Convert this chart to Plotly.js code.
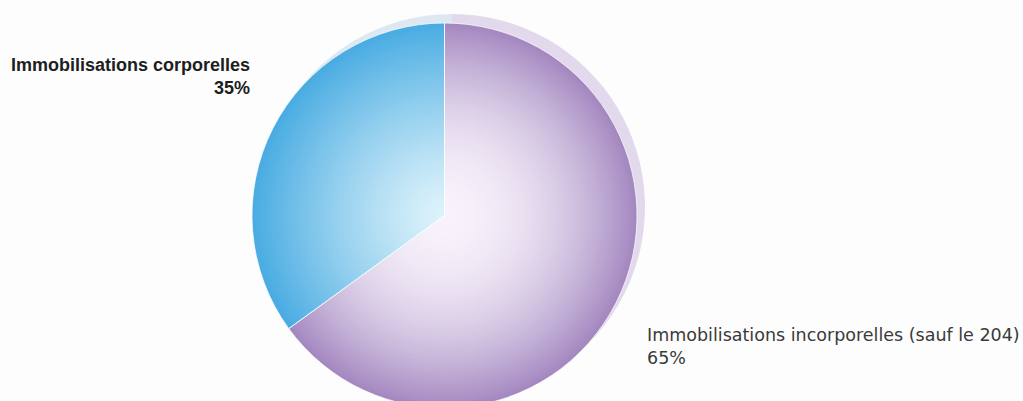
<!DOCTYPE html>
<html>
<head>
<meta charset="utf-8">
<script src="https://cdn.plot.ly/plotly-3.0.1.min.js"></script>
<style>html,body{margin:0;padding:0;overflow:hidden;background:#fdfdfd;}#chart{width:1023px;height:408px;}</style>
</head>
<body>
<div id="chart"></div>
<script>
// slice order: first slice runs clockwise from 12 o'clock
const categories = ["Immobilisations incorporelles (sauf le 204)", "Immobilisations corporelles"];
const values = [65, 35];
const percentLabels = ["65%", "35%"];

const W = 1023, H = 408;
const outerColors = [[164, 136, 192], [74, 172, 226]];
const innerColors = [[247, 242, 251], [222, 243, 251]];
const exponents = [2.0, 1.25];

function dom(cx, cy, r) {
  return {
    x: [(cx - r) / W, (cx + r) / W],
    y: [1 - (cy + r) / H, 1 - (cy - r) / H]
  };
}
function mix(a, b, t) {
  return 'rgb(' + a.map((v, i) => Math.round(v + (b[i] - v) * t)).join(',') + ')';
}

const cx = 444.5, cy = 215.5, R = 192.5;
const traces = [];
const base = {type: 'pie', values: values, labels: categories, sort: false,
  textinfo: 'none', hoverinfo: 'skip', showlegend: false};
// soft shadow disc
traces.push(Object.assign({}, base, {
  marker: {colors: ['#e2d9ed', '#dde8f3'], line: {width: 0}},
  domain: dom(452, 207, 193)
}));
// radial gradient layers
const N = 72;
for (let k = 0; k < N; k++) {
  const f = 1 - k / N;
  traces.push(Object.assign({}, base, {
    marker: {colors: [0, 1].map(i => mix(outerColors[i], innerColors[i], 1 - Math.pow(f, exponents[i]))), line: {width: 0}},
    domain: dom(cx, cy, R * f)
  }));
}
// outline
traces.push(Object.assign({}, base, {
  marker: {colors: ['rgba(0,0,0,0)', 'rgba(0,0,0,0)'], line: {width: 1, color: 'rgba(255,255,255,0.7)'}},
  domain: dom(cx, cy, R)
}));

const layout = {
  width: W, height: H,
  margin: {l: 0, r: 0, t: 0, b: 0},
  paper_bgcolor: '#fdfdfd',
  showlegend: false,
  annotations: [
    {
      xref: 'paper', yref: 'paper', x: 252 / W, y: 1 - 76.5 / H,
      xanchor: 'right', yanchor: 'middle', align: 'right', showarrow: false,
      text: '<b>' + categories[1] + '</b><br><b>' + percentLabels[1] + '</b>',
      font: {family: 'Liberation Sans, Arial, sans-serif', size: 18, color: '#1e1e1e'}
    },
    {
      xref: 'paper', yref: 'paper', x: 645 / W, y: 1 - 346 / H,
      xanchor: 'left', yanchor: 'middle', align: 'left', showarrow: false,
      text: categories[0] + '<br>' + percentLabels[0],
      font: {family: 'DejaVu Sans, sans-serif', size: 17.5, color: '#3a3a3a'}
    }
  ]
};
Plotly.newPlot('chart', traces, layout, {staticPlot: true, displayModeBar: false});
</script>
</body>
</html>
